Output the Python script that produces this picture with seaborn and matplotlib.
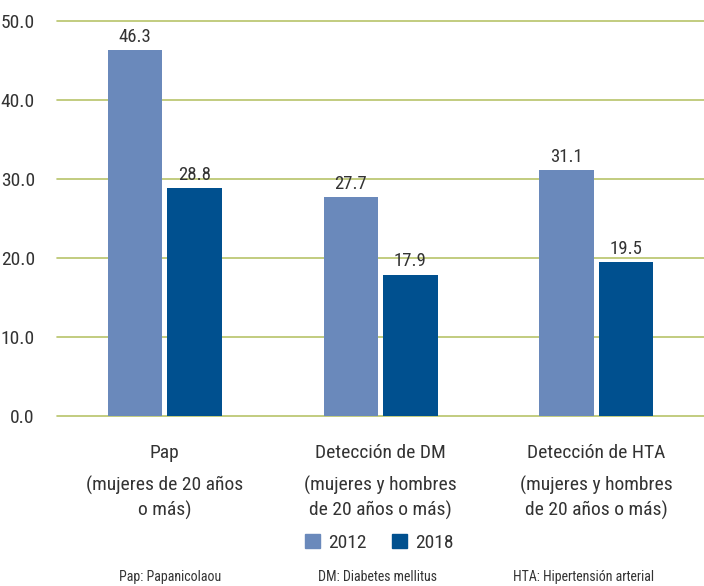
import matplotlib
matplotlib.use("Agg")
import matplotlib.pyplot as plt
import seaborn as sns
import pandas as pd
from matplotlib.font_manager import fontManager
from matplotlib.patches import Patch

categories = ["Pap", "Detección de DM", "Detección de HTA"]
subtitles = ["(mujeres de 20 años\no más)",
             "(mujeres y hombres\nde 20 años o más)",
             "(mujeres y hombres\nde 20 años o más)"]
years = ["2012", "2018"]
values_2012 = [46.3, 27.7, 31.1]
values_2018 = [28.8, 17.9, 19.5]
footnotes = ["Pap: Papanicolaou", "DM: Diabetes mellitus", "HTA: Hipertensión arterial"]
yticks = [0, 10, 20, 30, 40, 50]

df = pd.DataFrame({
    "cat": categories * 2,
    "year": [years[0]] * 3 + [years[1]] * 3,
    "val": values_2012 + values_2018,
})

sns.set_theme(style="white")

# look for a condensed face
fam, stretch, condensed = "DejaVu Sans", "normal", False
names = {f.name for f in fontManager.ttflist}
for n in ["Liberation Sans Narrow", "Roboto Condensed", "Open Sans Condensed",
          "DejaVu Sans Condensed", "Noto Sans Condensed"]:
    if n in names:
        fam, condensed = n, True
        break
if not condensed:
    for f in fontManager.ttflist:
        st = f.stretch
        if isinstance(st, str) and "condensed" in st and f.name in (
                "DejaVu Sans", "Noto Sans", "Open Sans", "Roboto") and f.weight in (400, "normal", "regular"):
            fam, stretch, condensed = f.name, st, True
            break
plt.rcParams["font.family"] = [fam, "DejaVu Sans"]
plt.rcParams["font.stretch"] = stretch
plt.rcParams["font.weight"] = "normal"

k = 1.0 if condensed else 0.86  # shrink if no narrow face
fs_main = 14 * k
fs_val = 13.5 * k
fs_foot = 10 * k

c2012 = "#6a89bb"
c2018 = "#00508f"
grid_c = "#b8c46a"
txt_c = "#333333"

fig = plt.figure(figsize=(7.04, 5.86), dpi=100)
ax = fig.add_axes([0.081, 0.29, 0.919, 0.6745])
sns.barplot(data=df, x="cat", y="val", hue="year", palette=[c2012, c2018],
            width=0.552, gap=0.085, ax=ax, legend=False, saturation=1,
            linewidth=0, edgecolor="none")
ax.set_ylim(0, 50)
ax.set_xlim(-0.5, 2.5)
ax.set_yticks(yticks)
ax.set_yticklabels([f"{v:.1f}" for v in yticks], fontsize=fs_main, color=txt_c)
ax.yaxis.grid(True, color=grid_c, linewidth=1.2)
for gl in ax.get_ygridlines():
    gl.set_clip_on(False)
ax.set_axisbelow(True)
for s in ax.spines.values():
    s.set_visible(False)
ax.tick_params(axis="y", length=0, pad=16)
ax.tick_params(axis="x", length=0, pad=20)
ax.set_xlabel("")
ax.set_ylabel("")
ax.set_xticks(range(3))
ax.set_xticklabels(categories, fontsize=fs_main, color=txt_c)

for cont in ax.containers:
    ax.bar_label(cont, labels=[f"{v:.1f}" for v in cont.datavalues],
                 padding=3, fontsize=fs_val, color=txt_c)

trans = ax.get_xaxis_transform()
for i, sub in enumerate(subtitles):
    ax.text(i, -0.15, sub, transform=trans, ha="center", va="top",
            fontsize=fs_main, color=txt_c, linespacing=1.42)

handles = [Patch(color=c2012, label=years[0]), Patch(color=c2018, label=years[1])]
fig.legend(handles=handles, loc="center", bbox_to_anchor=(0.539, 1 - 543 / 586),
           ncol=2, frameon=False, fontsize=fs_main, handlelength=0.75, handleheight=0.75,
           columnspacing=1.3, handletextpad=0.45, labelcolor=txt_c)

fx = [170 / 704, 377 / 704, 584 / 704]
for x, t in zip(fx, footnotes):
    fig.text(x, 1 - 577 / 586, t, ha="center", va="center", fontsize=fs_foot, color=txt_c)

fig.savefig("out.png", dpi=100)
